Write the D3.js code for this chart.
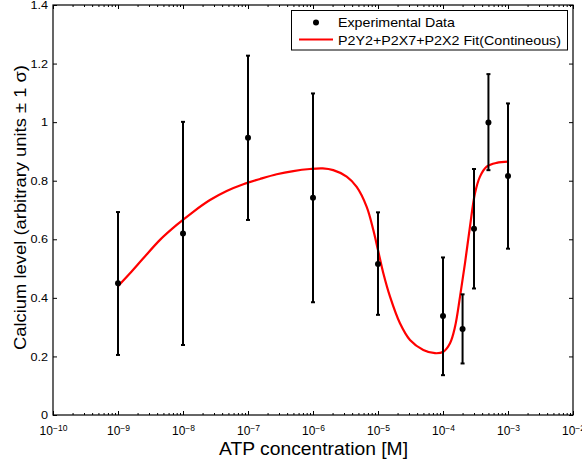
<!DOCTYPE html>
<html>
<head>
<meta charset="utf-8">
<script src="https://cdn.jsdelivr.net/npm/d3@7"></script>
<style>
  html, body { margin: 0; padding: 0; background: #fff; }
  svg { display: block; font-family: "Liberation Sans", Arial, Helvetica, sans-serif; }
</style>
</head>
<body>
<svg id="chart" width="582" height="461"></svg>
<script>
// ---- data ----
const atpConc   = [1e-9, 1e-8, 1e-7, 1e-6, 1e-5, 1e-4, 2e-4, 3e-4, 5e-4, 1e-3];
const calcium   = [0.450, 0.620, 0.947, 0.742, 0.516, 0.338, 0.294, 0.636, 0.999, 0.816];
const errUpper  = [0.693, 1.001, 1.227, 1.098, 0.692, 0.538, 0.412, 0.840, 1.164, 1.064];
const errLower  = [0.205, 0.239, 0.666, 0.385, 0.342, 0.136, 0.176, 0.432, 0.836, 0.568];

// fitted curve (log10 of concentration, calcium level)
const fitLogConc = [-9.00, -8.815, -8.611, -8.354, -8.097, -7.842, -7.585, -7.328, -7.072, -6.815,
                    -6.558, -6.303, -6.046, -5.85, -5.688, -5.482, -5.328, -5.174, -5.072, -5.000,
                    -4.918, -4.815, -4.662, -4.508, -4.303, -4.123, -3.995, -3.892, -3.815, -3.738,
                    -3.662, -3.585, -3.508, -3.431, -3.328, -3.174, -3.000];
const fitLevel   = [0.440, 0.484, 0.535, 0.598, 0.649, 0.694, 0.734, 0.765, 0.788, 0.806,
                    0.822, 0.833, 0.840, 0.842, 0.836, 0.814, 0.779, 0.711, 0.632, 0.563,
                    0.484, 0.404, 0.313, 0.256, 0.222, 0.211, 0.216, 0.245, 0.301, 0.404,
                    0.518, 0.643, 0.757, 0.814, 0.848, 0.861, 0.865];

const xMajorExp = [-10, -9, -8, -7, -6, -5, -4, -3, -2];
const yTicks = [0, 0.2, 0.4, 0.6, 0.8, 1, 1.2, 1.4];
const legendLabels = ["Experimental Data", "P2Y2+P2X7+P2X2 Fit(Contineous)"];
const xTitle = "ATP concentration [M]";
const yTitle = "Calcium level (arbitrary units \u00B1 1 \u03C3)";

// ---- layout ----
const L = 53, R = 573, T = 5, B = 415;
const svg = d3.select("#chart");
const x = d3.scaleLog().domain([1e-10, 1e-2]).range([L, R]);
const y = d3.scaleLinear().domain([0, 1.4]).range([B, T]);

// widen text horizontally (reference glyphs are wider than Liberation Sans)
function widen(sel, factor) {
  sel.each(function() {
    const w = this.getComputedTextLength();
    d3.select(this).attr("textLength", w * factor).attr("lengthAdjust", "spacingAndGlyphs");
  });
}

const majors = xMajorExp.map(e => Math.pow(10, e));
const minors = [];
for (let e = -10; e < -2; e++) for (let k = 2; k <= 9; k++) minors.push(k * Math.pow(10, e));

// bottom axis: major ticks with labels
const gB = svg.append("g").attr("transform", `translate(0,${B})`)
  .call(d3.axisBottom(x).tickValues(majors).tickSizeInner(-4).tickSizeOuter(0).tickPadding(11).tickFormat(() => ""));
gB.selectAll(".tick text").each(function(d) {
  const t = d3.select(this).attr("font-size", 12).attr("fill", "#000").attr("font-family", null);
  const e = Math.round(Math.log10(d));
  t.append("tspan").text("10");
  t.append("tspan").attr("dy", "-0.45em").attr("font-size", 8.5).text("\u2212" + Math.abs(e));
});
svg.append("g").attr("transform", `translate(0,${B})`)
  .call(d3.axisBottom(x).tickValues(minors).tickSizeInner(-2).tickSizeOuter(0).tickFormat(() => ""));
// top axis
svg.append("g").attr("transform", `translate(0,${T})`)
  .call(d3.axisTop(x).tickValues(majors).tickSizeInner(-4).tickSizeOuter(0).tickFormat(() => ""));
svg.append("g").attr("transform", `translate(0,${T})`)
  .call(d3.axisTop(x).tickValues(minors).tickSizeInner(-2).tickSizeOuter(0).tickFormat(() => ""));
// left axis
const gL = svg.append("g").attr("transform", `translate(${L},0)`)
  .call(d3.axisLeft(y).tickValues(yTicks).tickSizeInner(-4).tickSizeOuter(0).tickPadding(5).tickFormat(d3.format("~g")));
gL.selectAll(".tick text").attr("font-size", 11.5).attr("fill", "#000").attr("font-family", null);
widen(gL.selectAll(".tick text"), 1.1);
// right axis
svg.append("g").attr("transform", `translate(${R},0)`)
  .call(d3.axisRight(y).tickValues(yTicks).tickSizeInner(-4).tickSizeOuter(0).tickFormat(() => ""));

svg.selectAll(".domain").remove();
svg.selectAll(".tick line").attr("stroke", "#000").attr("stroke-width", 1);

// frame
svg.append("rect").attr("x", L).attr("y", T).attr("width", R - L).attr("height", B - T)
  .attr("fill", "none").attr("stroke", "#000").attr("stroke-width", 1.2);

// fit curve
const fitData = fitLogConc.map((e, i) => [Math.pow(10, e), fitLevel[i]]);
svg.append("path").datum(fitData)
  .attr("fill", "none").attr("stroke", "#ff0000").attr("stroke-width", 2.2)
  .attr("d", d3.line().x(d => x(d[0])).y(d => y(d[1])).curve(d3.curveCatmullRom.alpha(0.5)));

// error bars
const pts = atpConc.map((c, i) => ({ c, v: calcium[i], hi: errUpper[i], lo: errLower[i] }));
const eb = svg.append("g").attr("stroke", "#000").attr("stroke-width", 2);
eb.selectAll("line.v").data(pts).join("line").attr("class", "v")
  .attr("x1", d => x(d.c)).attr("x2", d => x(d.c)).attr("y1", d => y(d.hi)).attr("y2", d => y(d.lo));
eb.selectAll("line.t").data(pts).join("line").attr("class", "t")
  .attr("x1", d => x(d.c) - 2).attr("x2", d => x(d.c) + 2).attr("y1", d => y(d.hi)).attr("y2", d => y(d.hi));
eb.selectAll("line.b").data(pts).join("line").attr("class", "b")
  .attr("x1", d => x(d.c) - 2).attr("x2", d => x(d.c) + 2).attr("y1", d => y(d.lo)).attr("y2", d => y(d.lo));
svg.append("g").selectAll("circle").data(pts).join("circle")
  .attr("cx", d => x(d.c)).attr("cy", d => y(d.v)).attr("r", 3).attr("fill", "#000");

// legend
const lg = svg.append("g");
lg.append("rect").attr("x", 291.5).attr("y", 10.5).attr("width", 276).attr("height", 39.5)
  .attr("fill", "#fff").attr("stroke", "#000").attr("stroke-width", 1);
lg.append("circle").attr("cx", 316).attr("cy", 22.5).attr("r", 3).attr("fill", "#000");
lg.append("line").attr("x1", 299).attr("x2", 333).attr("y1", 39.5).attr("y2", 39.5)
  .attr("stroke", "#ff0000").attr("stroke-width", 2.2);
const legendWidths = [117, 223];
lg.selectAll("text").data(legendLabels).join("text")
  .attr("x", 338).attr("y", (d, i) => 27 + i * 17.5).attr("font-size", 13).attr("fill", "#000")
  .attr("textLength", (d, i) => legendWidths[i]).attr("lengthAdjust", "spacingAndGlyphs")
  .text(d => d);

// axis titles
svg.append("text").attr("x", 313.5).attr("y", 455).attr("text-anchor", "middle")
  .attr("font-size", 17.5).attr("fill", "#000")
  .attr("textLength", 189).attr("lengthAdjust", "spacingAndGlyphs").text(xTitle);
svg.append("text").attr("transform", `translate(25.5,207.5) rotate(-90)`).attr("text-anchor", "middle")
  .attr("font-size", 17).attr("fill", "#000")
  .attr("textLength", 285).attr("lengthAdjust", "spacingAndGlyphs").text(yTitle);
</script>
</body>
</html>
